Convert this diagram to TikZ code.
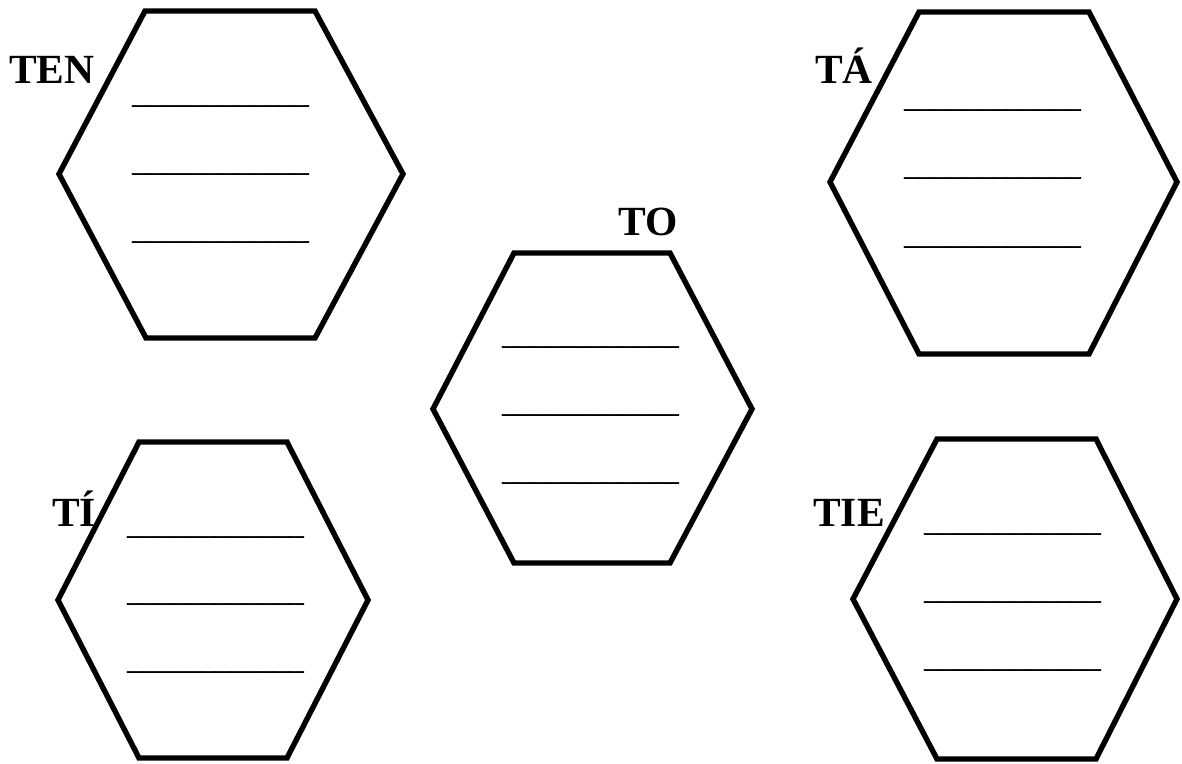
\documentclass[tikz,border=0pt]{standalone}
\usepackage{fontspec}
\setmainfont{Liberation Serif}
\newfontfamily\blankfont[FakeBold=1.2]{Liberation Serif}
\begin{document}
\begin{tikzpicture}[x=1pt,y=-1pt,
  hexa/.style={draw=black,line width=5.4pt,line join=miter},
  lbl/.style={anchor=base west,inner sep=0pt,font=\fontsize{41.5}{48}\selectfont\bfseries},
  blank/.style={anchor=base west,inner sep=0pt,font=\blankfont\fontsize{29.4}{35}\selectfont}]
\useasboundingbox (0,0) rectangle (1182,763);
% hexagons
\draw[hexa] (145,11) -- (315,11) -- (403,174) -- (315,338) -- (146,338) -- (59,174) -- cycle;
\draw[hexa] (919,12) -- (1089,12) -- (1177,182) -- (1089,354) -- (919,354) -- (830,182) -- cycle;
\draw[hexa] (514,253) -- (670,253) -- (752,409) -- (670,563) -- (514,563) -- (433,409) -- cycle;
\draw[hexa] (139,442) -- (287,442) -- (368,600) -- (287,758) -- (139,758) -- (58,600) -- cycle;
\draw[hexa] (937,439) -- (1096,439) -- (1177,599) -- (1096,759) -- (937,759) -- (853,599) -- cycle;
% labels
\node[lbl] (ten) at (9,83) {TEN};
\node[lbl] (ta) at (815,83) {TÁ};
\node[lbl] (to) at (618,235) {TO};
\node[lbl] (ti) at (52,526) {TÍ};
\node[lbl] (tie) at (813,526) {TIE};
% blanks
\node[blank] (a1) at (132,103) {\_\_\_\_\_\_\_\_\_\_\_\_};
\node[blank] (a2) at (132,171) {\_\_\_\_\_\_\_\_\_\_\_\_};
\node[blank] (a3) at (132,239) {\_\_\_\_\_\_\_\_\_\_\_\_};
\node[blank] (b1) at (904,107) {\_\_\_\_\_\_\_\_\_\_\_\_};
\node[blank] (b2) at (904,175) {\_\_\_\_\_\_\_\_\_\_\_\_};
\node[blank] (b3) at (904,244) {\_\_\_\_\_\_\_\_\_\_\_\_};
\node[blank] (c1) at (502,344) {\_\_\_\_\_\_\_\_\_\_\_\_};
\node[blank] (c2) at (502,412) {\_\_\_\_\_\_\_\_\_\_\_\_};
\node[blank] (c3) at (502,480) {\_\_\_\_\_\_\_\_\_\_\_\_};
\node[blank] (d1) at (127,534) {\_\_\_\_\_\_\_\_\_\_\_\_};
\node[blank] (d2) at (127,601) {\_\_\_\_\_\_\_\_\_\_\_\_};
\node[blank] (d3) at (127,669) {\_\_\_\_\_\_\_\_\_\_\_\_};
\node[blank] (e1) at (924,531) {\_\_\_\_\_\_\_\_\_\_\_\_};
\node[blank] (e2) at (924,599) {\_\_\_\_\_\_\_\_\_\_\_\_};
\node[blank] (e3) at (924,667) {\_\_\_\_\_\_\_\_\_\_\_\_};
\end{tikzpicture}
\end{document}
